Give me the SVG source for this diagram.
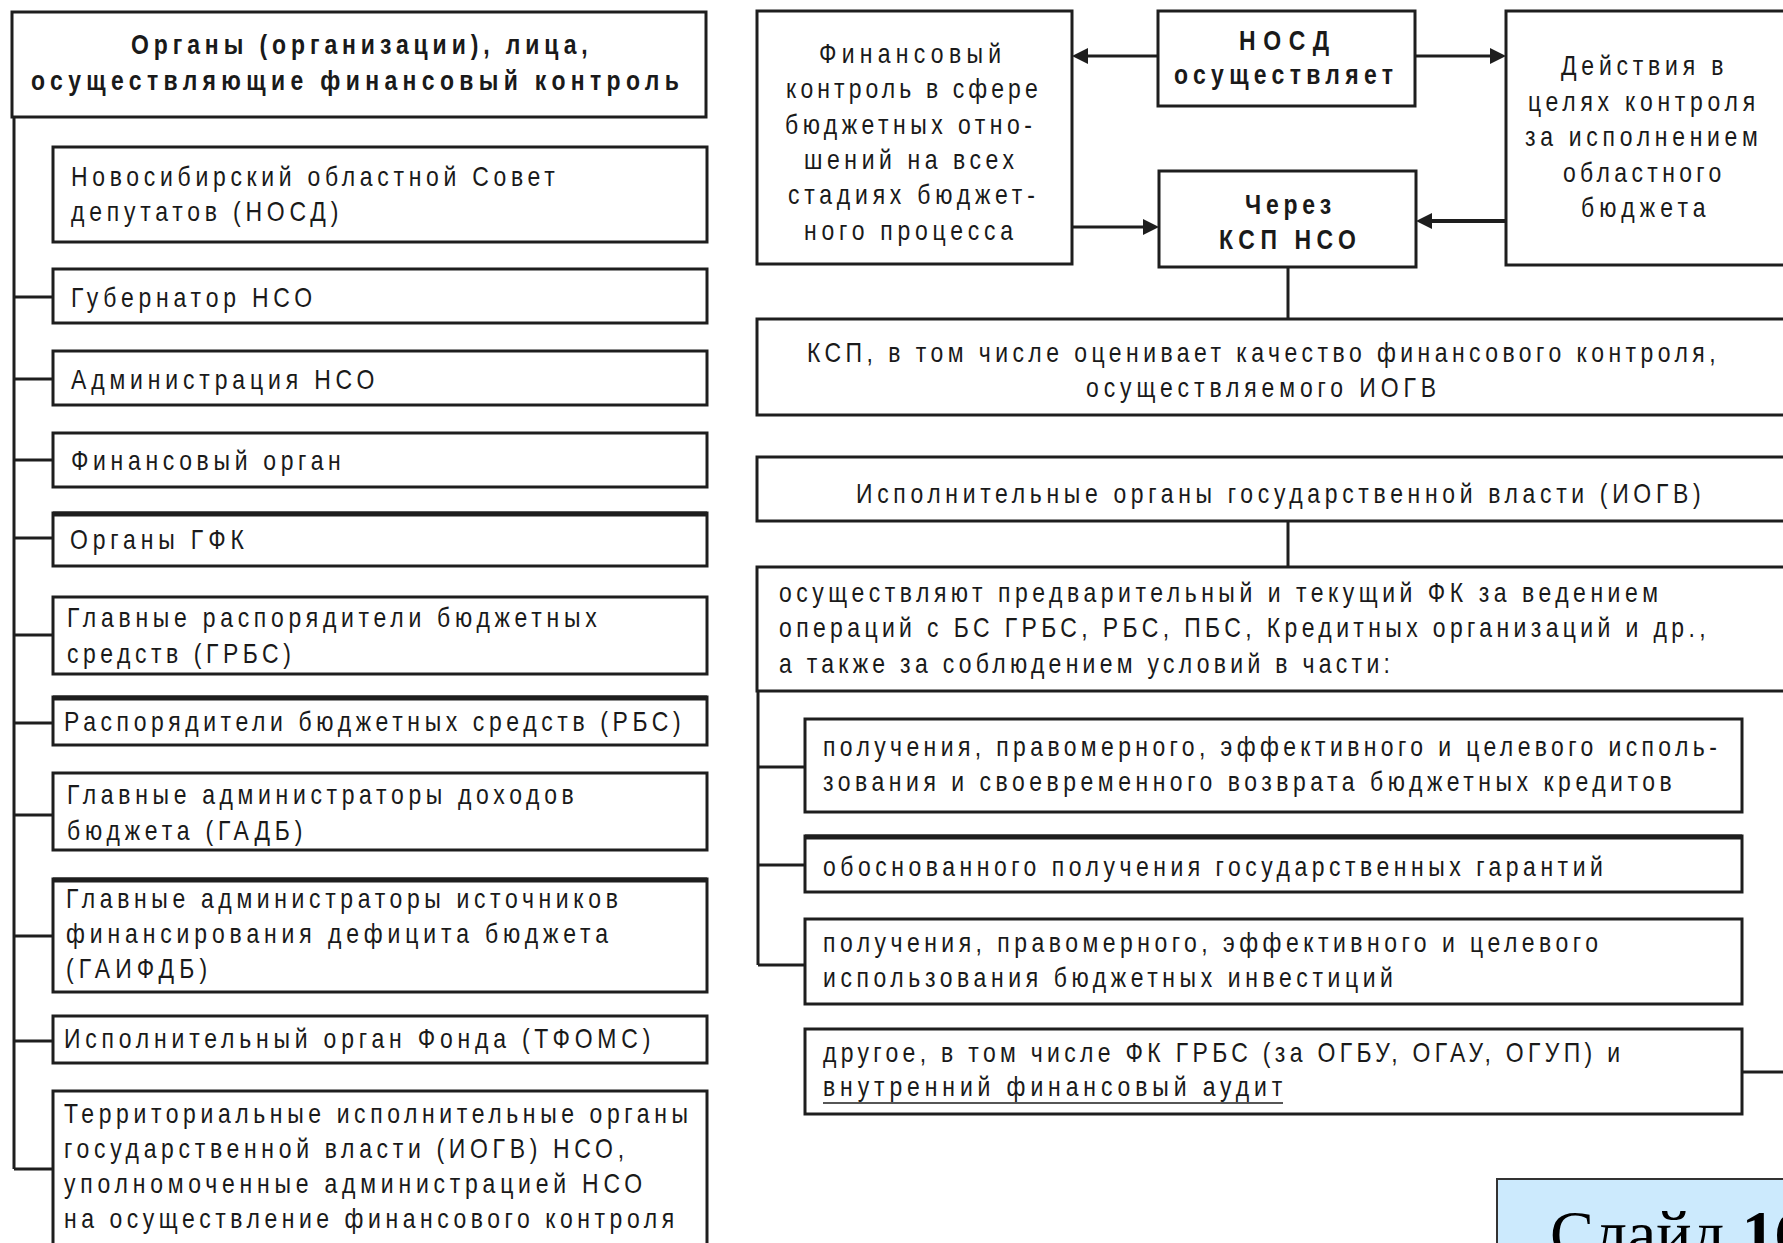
<svg xmlns="http://www.w3.org/2000/svg" width="1783" height="1243" viewBox="0 0 1783 1243">
<style>
.bx{fill:#fff;stroke:#1e1e1e;stroke-width:3}
.ln{fill:none;stroke:#1e1e1e;stroke-width:3}
.t{font-family:"Liberation Sans Narrow","Liberation Sans",Arial,sans-serif;font-size:28px;fill:#1a1a1a}
.b{font-weight:bold}
.sl{font-family:"Liberation Serif","Times New Roman",serif;font-size:66px;fill:#000}
</style>
<defs>
<marker id="ah" markerUnits="userSpaceOnUse" markerWidth="16" markerHeight="16" viewBox="0 0 16 16" refX="6" refY="8" orient="auto">
<path d="M0,0 L16,8 L0,16 z" fill="#1e1e1e"/>
</marker>
</defs>
<rect width="1783" height="1243" fill="#fff"/>

<g id="connectors">
<path class="ln" d="M14,117 V1169"/>
<path class="ln" d="M14,297 H53 M14,379 H53 M14,460 H53 M14,538 H53 M14,635 H53 M14,723 H53 M14,815 H53 M14,936 H53 M14,1041 H53 M14,1169 H53"/>
<path class="ln" d="M1158,56 H1082" marker-end="url(#ah)"/>
<path class="ln" d="M1415,56 H1496" marker-end="url(#ah)"/>
<path class="ln" d="M1072,227 H1149" marker-end="url(#ah)"/>
<path class="ln" d="M1506,221 H1426" style="stroke-width:4" marker-end="url(#ah)"/>
<path class="ln" d="M1288,267 V319 M1288,521 V567"/>
<path class="ln" d="M758,691 V965 M758,767 H805 M758,865 H805 M758,965 H805"/>
<path class="ln" d="M1742,1072 H1790"/>
</g>

<g id="n-header">
<rect class="bx" x="12" y="12" width="694" height="105"/>
<text class="t b" transform="translate(131 54) scale(.82 1)" textLength="557" lengthAdjust="spacing">Органы (организации), лица,</text>
<text class="t b" transform="translate(31 90) scale(.82 1)" textLength="790" lengthAdjust="spacing">осуществляющие финансовый контроль</text>
</g>
<g id="n-nosd-full">
<rect class="bx" x="53" y="147" width="654" height="95"/>
<text class="t" transform="translate(71 186) scale(.82 1)" textLength="590" lengthAdjust="spacing">Новосибирский областной Совет</text>
<text class="t" transform="translate(71 221) scale(.82 1)" textLength="326" lengthAdjust="spacing">депутатов (НОСД)</text>
</g>
<g id="n-gub">
<rect class="bx" x="53" y="269" width="654" height="54"/>
<text class="t" transform="translate(71 307) scale(.82 1)" textLength="294" lengthAdjust="spacing">Губернатор НСО</text>
</g>
<g id="n-adm">
<rect class="bx" x="53" y="351" width="654" height="54"/>
<text class="t" transform="translate(71 389) scale(.82 1)" textLength="370" lengthAdjust="spacing">Администрация НСО</text>
</g>
<g id="n-fin">
<rect class="bx" x="53" y="433" width="654" height="54"/>
<text class="t" transform="translate(71 470) scale(.82 1)" textLength="329" lengthAdjust="spacing">Финансовый орган</text>
</g>
<g id="n-gfk">
<rect class="bx" x="53" y="513" width="654" height="53"/>
<path class="ln" d="M53,514 H707" style="stroke-width:5"/>
<text class="t" transform="translate(70 549) scale(.82 1)" textLength="212" lengthAdjust="spacing">Органы ГФК</text>
</g>
<g id="n-grbs">
<rect class="bx" x="53" y="597" width="654" height="77"/>
<text class="t" transform="translate(67 627) scale(.82 1)" textLength="646" lengthAdjust="spacing">Главные распорядители бюджетных</text>
<text class="t" transform="translate(67 663) scale(.82 1)" textLength="273" lengthAdjust="spacing">средств (ГРБС)</text>
</g>
<g id="n-rbs">
<rect class="bx" x="53" y="697" width="654" height="48"/>
<path class="ln" d="M53,698 H707" style="stroke-width:5"/>
<text class="t" transform="translate(64 731) scale(.82 1)" textLength="752" lengthAdjust="spacing">Распорядители бюджетных средств (РБС)</text>
</g>
<g id="n-gadb">
<rect class="bx" x="53" y="773" width="654" height="77"/>
<text class="t" transform="translate(67 804) scale(.82 1)" textLength="618" lengthAdjust="spacing">Главные администраторы доходов</text>
<text class="t" transform="translate(67 840) scale(.82 1)" textLength="287" lengthAdjust="spacing">бюджета (ГАДБ)</text>
</g>
<g id="n-gaifdb">
<rect class="bx" x="53" y="879" width="654" height="113"/>
<path class="ln" d="M53,880 H707" style="stroke-width:5"/>
<text class="t" transform="translate(66 908) scale(.82 1)" textLength="673" lengthAdjust="spacing">Главные администраторы источников</text>
<text class="t" transform="translate(66 943) scale(.82 1)" textLength="661" lengthAdjust="spacing">финансирования дефицита бюджета</text>
<text class="t" transform="translate(66 978) scale(.82 1)" textLength="172" lengthAdjust="spacing">(ГАИФДБ)</text>
</g>
<g id="n-tfoms">
<rect class="bx" x="53" y="1016" width="654" height="47"/>
<text class="t" transform="translate(64 1048) scale(.82 1)" textLength="715" lengthAdjust="spacing">Исполнительный орган Фонда (ТФОМС)</text>
</g>
<g id="n-terr">
<rect class="bx" x="53" y="1091" width="654" height="170"/>
<text class="t" transform="translate(64 1123) scale(.82 1)" textLength="761" lengthAdjust="spacing">Территориальные исполнительные органы</text>
<text class="t" transform="translate(64 1158) scale(.82 1)" textLength="683" lengthAdjust="spacing">государственной власти (ИОГВ) НСО,</text>
<text class="t" transform="translate(64 1193) scale(.82 1)" textLength="705" lengthAdjust="spacing">уполномоченные администрацией НСО</text>
<text class="t" transform="translate(64 1228) scale(.82 1)" textLength="744" lengthAdjust="spacing">на осуществление финансового контроля</text>
</g>

<g id="n-fk-sphere">
<rect class="bx" x="757" y="11" width="315" height="253"/>
<text class="t" transform="translate(819 63) scale(.82 1)" textLength="222" lengthAdjust="spacing">Финансовый</text>
<text class="t" transform="translate(786 98) scale(.82 1)" textLength="307" lengthAdjust="spacing">контроль в сфере</text>
<text class="t" transform="translate(785 134) scale(.82 1)" textLength="301" lengthAdjust="spacing">бюджетных отно-</text>
<text class="t" transform="translate(804 169) scale(.82 1)" textLength="256" lengthAdjust="spacing">шений на всех</text>
<text class="t" transform="translate(788 204) scale(.82 1)" textLength="301" lengthAdjust="spacing">стадиях бюджет-</text>
<text class="t" transform="translate(804 240) scale(.82 1)" textLength="255" lengthAdjust="spacing">ного процесса</text>
</g>
<g id="n-nosd">
<rect class="bx" x="1158" y="11" width="257" height="95"/>
<text class="t b" transform="translate(1239 50) scale(.82 1)" textLength="110" lengthAdjust="spacing">НОСД</text>
<text class="t b" transform="translate(1174 84) scale(.82 1)" textLength="267" lengthAdjust="spacing">осуществляет</text>
</g>
<g id="n-through">
<rect class="bx" x="1159" y="171" width="257" height="96"/>
<text class="t b" transform="translate(1245 214) scale(.82 1)" textLength="105" lengthAdjust="spacing">Через</text>
<text class="t b" transform="translate(1219 249) scale(.82 1)" textLength="167" lengthAdjust="spacing">КСП НСО</text>
</g>
<g id="n-actions">
<rect class="bx" x="1506" y="11" width="290" height="254"/>
<text class="t" transform="translate(1561 75) scale(.82 1)" textLength="198" lengthAdjust="spacing">Действия в</text>
<text class="t" transform="translate(1528 111) scale(.82 1)" textLength="277" lengthAdjust="spacing">целях контроля</text>
<text class="t" transform="translate(1525 146) scale(.82 1)" textLength="284" lengthAdjust="spacing">за исполнением</text>
<text class="t" transform="translate(1563 182) scale(.82 1)" textLength="193" lengthAdjust="spacing">областного</text>
<text class="t" transform="translate(1581 217) scale(.82 1)" textLength="152" lengthAdjust="spacing">бюджета</text>
</g>
<g id="n-ksp">
<rect class="bx" x="757" y="319" width="1040" height="96"/>
<text class="t" transform="translate(807 362) scale(.82 1)" textLength="1108" lengthAdjust="spacing">КСП, в том числе оценивает качество финансового контроля,</text>
<text class="t" transform="translate(1086 397) scale(.82 1)" textLength="427" lengthAdjust="spacing">осуществляемого ИОГВ</text>
</g>
<g id="n-iogv">
<rect class="bx" x="757" y="457" width="1040" height="64"/>
<text class="t" transform="translate(856 503) scale(.82 1)" textLength="1030" lengthAdjust="spacing">Исполнительные органы государственной власти (ИОГВ)</text>
</g>
<g id="n-exercise">
<rect class="bx" x="757" y="567" width="1040" height="124"/>
<text class="t" transform="translate(779 602) scale(.82 1)" textLength="1072" lengthAdjust="spacing">осуществляют предварительный и текущий ФК за ведением</text>
<text class="t" transform="translate(779 637) scale(.82 1)" textLength="1130" lengthAdjust="spacing">операций с БС ГРБС, РБС, ПБС, Кредитных организаций и др.,</text>
<text class="t" transform="translate(779 673) scale(.82 1)" textLength="745" lengthAdjust="spacing">а также за соблюдением условий в части:</text>
</g>
<g id="n-credits">
<rect class="bx" x="805" y="719" width="937" height="93"/>
<text class="t" transform="translate(823 756) scale(.82 1)" textLength="1090" lengthAdjust="spacing">получения, правомерного, эффективного и целевого исполь-</text>
<text class="t" transform="translate(823 791) scale(.82 1)" textLength="1035" lengthAdjust="spacing">зования и своевременного возврата бюджетных кредитов</text>
</g>
<g id="n-guarantees">
<rect class="bx" x="805" y="836" width="937" height="56"/>
<path class="ln" d="M805,837 H1742" style="stroke-width:5"/>
<text class="t" transform="translate(823 876) scale(.82 1)" textLength="951" lengthAdjust="spacing">обоснованного получения государственных гарантий</text>
</g>
<g id="n-investments">
<rect class="bx" x="805" y="919" width="937" height="85"/>
<text class="t" transform="translate(823 952) scale(.82 1)" textLength="945" lengthAdjust="spacing">получения, правомерного, эффективного и целевого</text>
<text class="t" transform="translate(823 987) scale(.82 1)" textLength="695" lengthAdjust="spacing">использования бюджетных инвестиций</text>
</g>
<g id="n-other">
<rect class="bx" x="805" y="1029" width="937" height="85"/>
<text class="t" transform="translate(823 1062) scale(.82 1)" textLength="972" lengthAdjust="spacing">другое, в том числе ФК ГРБС (за ОГБУ, ОГАУ, ОГУП) и</text>
<text class="t" transform="translate(823 1096) scale(.82 1)" textLength="560" lengthAdjust="spacing">внутренний финансовый аудит</text>
<path d="M823,1103 H1283" stroke="#1e1e1e" stroke-width="1.5"/>
</g>
<g id="n-slide">
<rect x="1497" y="1179" width="300" height="80" fill="#cceafd" stroke="#333" stroke-width="2"/>
<text class="sl" x="1550" y="1256">Слайд <tspan font-weight="bold">16</tspan></text>
</g>
</svg>
